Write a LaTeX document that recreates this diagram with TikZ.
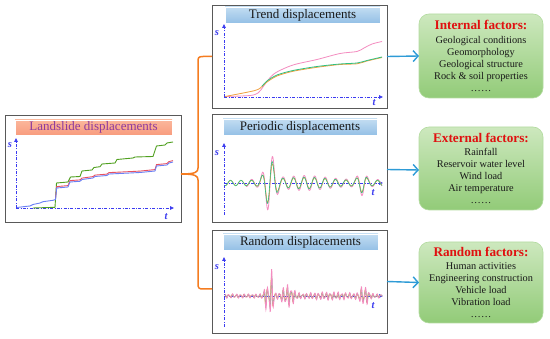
\documentclass[tikz,border=0pt]{standalone}
\usepackage{fontspec}
\setmainfont{Liberation Serif}
\usetikzlibrary{arrows.meta,calc}
\definecolor{boxgray}{HTML}{595959}
\definecolor{axblue}{HTML}{3B3BF0}
\definecolor{bracor}{HTML}{F57C20}
\definecolor{arrblue}{HTML}{2E9BD6}
\definecolor{barblueT}{HTML}{C3DDF2}
\definecolor{barblueB}{HTML}{94C0E6}
\definecolor{salT}{HTML}{FBB79C}
\definecolor{salB}{HTML}{F89C7E}
\definecolor{grT}{HTML}{CDE8BE}
\definecolor{grB}{HTML}{92CB78}
\definecolor{ttlpurple}{HTML}{8E3A9E}
\definecolor{facred}{HTML}{E01010}
\definecolor{cpink}{HTML}{F48CC0}
\definecolor{cgreen}{HTML}{30C080}
\definecolor{corange}{HTML}{F0A040}
\definecolor{lgreen}{HTML}{50A020}
\definecolor{lred}{HTML}{E85060}
\definecolor{lblue}{HTML}{6B80F5}
\begin{document}
\begin{tikzpicture}[x=1pt,y=-1pt,
  panel/.style={draw=boxgray, line width=0.9pt, fill=white, inner sep=0pt, outer sep=0pt},
  bar/.style={inner sep=0pt, outer sep=0pt, top color=barblueT, bottom color=barblueB, draw=white, line width=0.3pt, font=\fontsize{13}{13}\selectfont, text=black!90},
  factor/.style={rounded corners=10pt, inner sep=0pt, outer sep=0pt, top color=grT, bottom color=grB, draw=grB!70, line width=0.6pt, align=center, font=\fontsize{10.3}{12}\selectfont, text=black!90},
  axis/.style={axblue, line width=0.8pt, dash pattern=on 3pt off 1.5pt on 0.8pt off 1.5pt, -{Triangle[length=4pt,width=3.5pt]}},
  lab/.style={text=axblue, font=\fontsize{10.5}{10.5}\selectfont\bfseries\itshape, inner sep=0pt},
  brace/.style={bracor, line width=1.5pt},
  farrow/.style={arrblue, line width=1.4pt, -{Straight Barb[length=5pt,width=11pt]}},
  declare function={
    penv(\t)=3.5+4*exp(-min(((\t-305)/28)^2,9))+26*exp(-min(((\t-270)/6.5)^2,9))+9*exp(-min(((\t-362)/5)^2,9));
    pwave(\t)=sin((\t-270.1)/10.5*360);
    renv(\t)=2+10*exp(-min(((\t-266)/2.5)^2,9))+22*exp(-min(((\t-271.5)/2.4)^2,9))+9*exp(-min(((\t-288)/7)^2,9))+8*exp(-min(((\t-364)/5)^2,9))+2*exp(-min(((\t-330)/25)^2,9));
    rwave(\t)=(sin(mod(\t+400-272.95,3.9)/3.9*360)+0.35*sin(mod(\t,2.3)/2.3*360+50))/1.2;
  }]
\useasboundingbox (0,0) rectangle (550,339);

% ---------- panels ----------
\node[panel, minimum width=176pt, minimum height=107pt] (left) at (93,168.5) {};
\node[bar, minimum width=157pt, minimum height=15pt, top color=salT, bottom color=salB, text=ttlpurple] (lt) at (93.5,127.5) {Landslide displacements};

\node[panel, minimum width=175pt, minimum height=103pt] (trend) at (299.5,56.5) {};
\node[bar, minimum width=155pt, minimum height=16pt] (tt) at (302.5,15) {Trend displacements};

\node[panel, minimum width=175pt, minimum height=108pt] (period) at (299.5,168) {};
\node[bar, minimum width=154pt, minimum height=16pt] (pt) at (300,127) {Periodic displacements};

\node[panel, minimum width=175pt, minimum height=103pt] (random) at (299.5,281.5) {};
\node[bar, minimum width=155pt, minimum height=16pt] (rt) at (300.5,242) {Random displacements};

% ---------- factor boxes ----------
\node[factor, minimum width=124pt, minimum height=84pt] (inf) at (481,56)
  {{\fontsize{13.2}{14}\selectfont\bfseries\color{facred}Internal factors:}\\[1.5pt]
   Geological conditions\\Geomorphology\\Geological structure\\Rock \& soil properties\\……};
\node[factor, minimum width=124pt, minimum height=83pt] (exf) at (481,168.5)
  {{\fontsize{13.2}{14}\selectfont\bfseries\color{facred}External factors:}\\[1.5pt]
   Rainfall\\Reservoir water level\\Wind load\\Air temperature\\……};
\node[factor, minimum width=124pt, minimum height=81pt] (raf) at (481,282.5)
  {{\fontsize{13.2}{14}\selectfont\bfseries\color{facred}Random factors:}\\[1.5pt]
   Human activities\\Engineering construction\\Vehicle load\\Vibration load\\……};

% ---------- arrows ----------
\draw[farrow] (trend.east) -- (inf.west);
\draw[farrow] ([yshift=-1.5pt]period.east) -- ([yshift=-1.5pt]exf.west);
\draw[farrow] (random.east) -- (raf.west);

% ---------- brace ----------
\coordinate (lb) at ([yshift=-5.5pt]left.east);
\coordinate (rb) at ([yshift=-7.5pt]random.west);
\draw[brace] (trend.west) -- (203,56.5) .. controls (198,56.5) and (198,58) .. (198,62)
  -- (198,168) .. controls (198,172) and (196,174) .. (lb);
\draw[brace] (lb) .. controls (196,174) and (198,176) .. (198,180)
  -- (198,284) .. controls (198,288) and (199,289) .. (203,289) -- (rb);

% ---------- left plot ----------
\coordinate (o1) at (16,208);
\draw[axis] (o1) -- (174,208);
\draw[axis] (o1) -- (16,138);
\node[lab] (s1) at (10,145) {s};
\node[lab] (t1) at (166,217) {t};
\draw[lgreen, line width=0.9pt] (33,208) -- (55,207.3) -- (56.5,183) -- (68,182) -- (70.5,177) -- (80,176.5) -- (82,171) -- (92,170) -- (94,167.5) -- (100,166.7) -- (102,164) -- (115,163) -- (117,159.5) -- (133,158) -- (135,157) -- (153,156.5) -- (156.5,146) -- (165,145) -- (167,143) -- (173,142);
\draw[lred, line width=0.9pt, yshift=1.4pt] (55.5,199.5) -- (56.7,188) -- (68,187) -- (70,182) -- (80,181.3) -- (82,179.5) -- (93,178) -- (95,176.5) -- (107,175.5) -- (109,174) -- (120,173.5) -- (140,172.5) -- (155,171) -- (156.5,166) -- (167,165) -- (169,163) -- (173,162);
\draw[lblue, line width=0.9pt] (17,207.5) -- (25,206.5) -- (30,206) -- (33,204.5) -- (40,203) -- (43,201.7) -- (53,200.3) -- (55.5,199.5) -- (56.7,188) -- (68,187) -- (70,182) -- (80,181.3) -- (82,179.5) -- (93,178) -- (95,176.5) -- (107,175.5) -- (109,174) -- (120,173.5) -- (140,172.5) -- (155,171) -- (156.5,166) -- (167,165) -- (169,163) -- (173,162);

% ---------- trend plot ----------
\coordinate (o2) at (224,97);
\draw[axis] (o2) -- (383,97);
\draw[axis] (o2) -- (224,24);
\node[lab] (s2) at (217,33) {s};
\node[lab] (t2) at (374,103) {t};
\draw[cpink, line width=0.8pt] plot[smooth] coordinates {(225,96.5) (250,95.5) (258,93) (263,87) (268,80) (276,72.5) (293,65) (317,59.5) (340,53.5) (357,51.5) (364,48) (372,44) (382,41.5)};
\draw[corange, line width=0.8pt] plot[smooth] coordinates {(225,96.5) (255,90.5) (262,86.5) (267,82) (277,76) (293,71.3) (317,67.3) (340,64.5) (357,63.8) (367,61) (382,57.5)};
\draw[cgreen, line width=0.8pt] plot[smooth] coordinates {(262,86.3) (267,81) (277,75) (293,70.5) (317,66.5) (340,64) (357,63) (367,60.5) (382,57)};

% ---------- periodic plot ----------
\coordinate (o3) at (224,183);
\draw[axis] (o3) -- (383,183);
\draw[axis] (224,215) -- (224,143);
\node[lab] (s3) at (217,153) {s};
\node[lab] (t3) at (373,193) {t};
\draw[cpink, line width=0.8pt] plot[domain=246:382, samples=260] (\x,{183-penv(\x)*pwave(\x)});
\draw[corange, line width=0.6pt] plot[domain=225:382, samples=300] (\x,{183-0.72*penv(\x)*pwave(\x)});
\draw[cgreen, line width=0.6pt] plot[domain=225:382, samples=300] (\x,{183-0.78*penv(\x)*pwave(\x+0.3)});

% ---------- random plot ----------
\coordinate (o4) at (224,296);
\draw[axis] (o4) -- (383,296);
\draw[axis] (224,327) -- (224,257);
\node[lab] (s4) at (217,267) {s};
\node[lab] (t4) at (373,306) {t};
\draw[corange, line width=0.6pt] plot[domain=225:382, samples=600] (\x,{296-0.7*renv(\x)*rwave(\x+0.4)});
\draw[cgreen, line width=0.6pt] plot[domain=225:382, samples=600] (\x,{296-0.75*renv(\x)*rwave(\x)});
\draw[cpink, line width=0.8pt] plot[domain=225:382, samples=600] (\x,{296-renv(\x)*rwave(\x)});
\end{tikzpicture}
\end{document}
